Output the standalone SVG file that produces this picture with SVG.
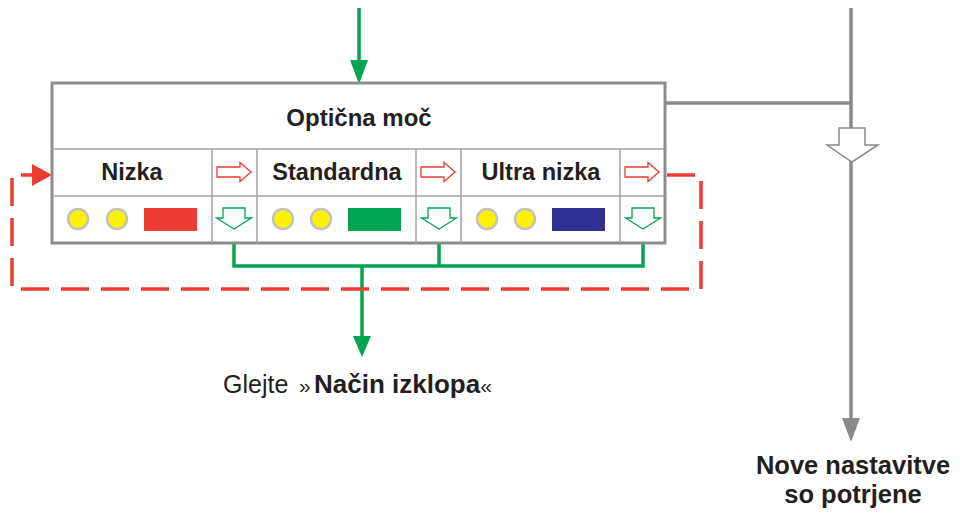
<svg xmlns="http://www.w3.org/2000/svg" width="960" height="513" viewBox="0 0 960 513">
<defs>
<style>
.t{font-family:"Liberation Sans",Arial,sans-serif;fill:#231f20}
.b{font-weight:bold}
.grid{stroke:#a3a3a3;stroke-width:1.5;fill:none}
.led{fill:#fff200;stroke:#c2c2c2;stroke-width:2.5}
.ra{fill:#fff;stroke:#ee3b33;stroke-width:1.3}
.ga{fill:#fff;stroke:#00a651;stroke-width:1.3}
.gl{stroke:#00a651;stroke-width:3.5;fill:none}
.gy{stroke:#8a8a8d;stroke-width:3.5;fill:none}
</style>
<polygon id="rarr" points="-17,-5 6,-5 6,-9.5 17,0 6,9.5 6,5 -17,5"/>
<polygon id="darr" points="-11,-10 11,-10 11,0 17.5,0 0,11 -17.5,0 -11,0"/>
</defs>
<g id="connectors">
<line class="gl" x1="359" y1="8" x2="359" y2="62"/>
<polygon points="350,60 368,60 359,84" fill="#00a651"/>
<polyline class="gl" points="234,243 234,266 643,266 643,243"/>
<line class="gl" x1="439" y1="243" x2="439" y2="266"/>
<line class="gl" x1="362" y1="266" x2="362" y2="338"/>
<polygon points="353,336 371,336 362,357" fill="#00a651"/>
<path d="M667,175 H701 V289 H12 V175 H34" fill="none" stroke="#ee3b33" stroke-width="3.5" stroke-dasharray="28 12"/>
<polygon points="32,164 52,175 32,186" fill="#ee3b33"/>
<line class="gy" x1="851" y1="8" x2="851" y2="420"/>
<line class="gy" x1="665" y1="103" x2="851" y2="103"/>
<polygon points="842,418 860,418 851,442" fill="#8a8a8d"/>
<polygon points="839,128 865,128 865,145 878,145 852,162 827,145 839,145" fill="#fff" stroke="#8a8a8d" stroke-width="1.5"/>
</g>
<g id="panel">
<rect x="52" y="83" width="613" height="160" fill="#fff" stroke="#8c8c8e" stroke-width="3"/>
<path class="grid" d="M52,149 H665 M52,196 H665 M212,149 V243 M257,149 V243 M416,149 V243 M461,149 V243 M620,149 V243"/>
<text class="t b" x="359" y="126" font-size="24" text-anchor="middle">Optična moč</text>
</g>
<g id="nizka">
<text class="t b" x="132" y="180" font-size="23.5" text-anchor="middle">Nizka</text>
<circle class="led" cx="78" cy="219" r="10"/>
<circle class="led" cx="117" cy="219" r="10"/>
<rect x="144" y="208" width="53" height="23" fill="#ee3b33"/>
<use href="#rarr" class="ra" x="234" y="172"/>
<use href="#darr" class="ga" x="234" y="218"/>
</g>
<g id="standardna">
<text class="t b" x="337" y="180" font-size="23.5" text-anchor="middle">Standardna</text>
<circle class="led" cx="283" cy="219" r="10"/>
<circle class="led" cx="321" cy="219" r="10"/>
<rect x="348" y="208" width="53" height="23" fill="#00a651"/>
<use href="#rarr" class="ra" x="438" y="172"/>
<use href="#darr" class="ga" x="439" y="218"/>
</g>
<g id="ultra">
<text class="t b" x="541" y="180" font-size="23.5" text-anchor="middle">Ultra nizka</text>
<circle class="led" cx="487" cy="219" r="10"/>
<circle class="led" cx="525" cy="219" r="10"/>
<rect x="552" y="208" width="53" height="23" fill="#2e3192"/>
<use href="#rarr" class="ra" x="642" y="172"/>
<use href="#darr" class="ga" x="643" y="218"/>
</g>
<g id="glejte">
<text class="t" x="223" y="393" font-size="25">Glejte<tspan x="299" font-size="21">»</tspan><tspan class="b" x="314" font-size="26">Način izklopa</tspan><tspan font-size="21">«</tspan></text>
</g>
<g id="nove">
<text class="t b" font-size="25.5" text-anchor="middle"><tspan x="853" y="474">Nove nastavitve</tspan><tspan x="853" y="503">so potrjene</tspan></text>
</g>
</svg>
